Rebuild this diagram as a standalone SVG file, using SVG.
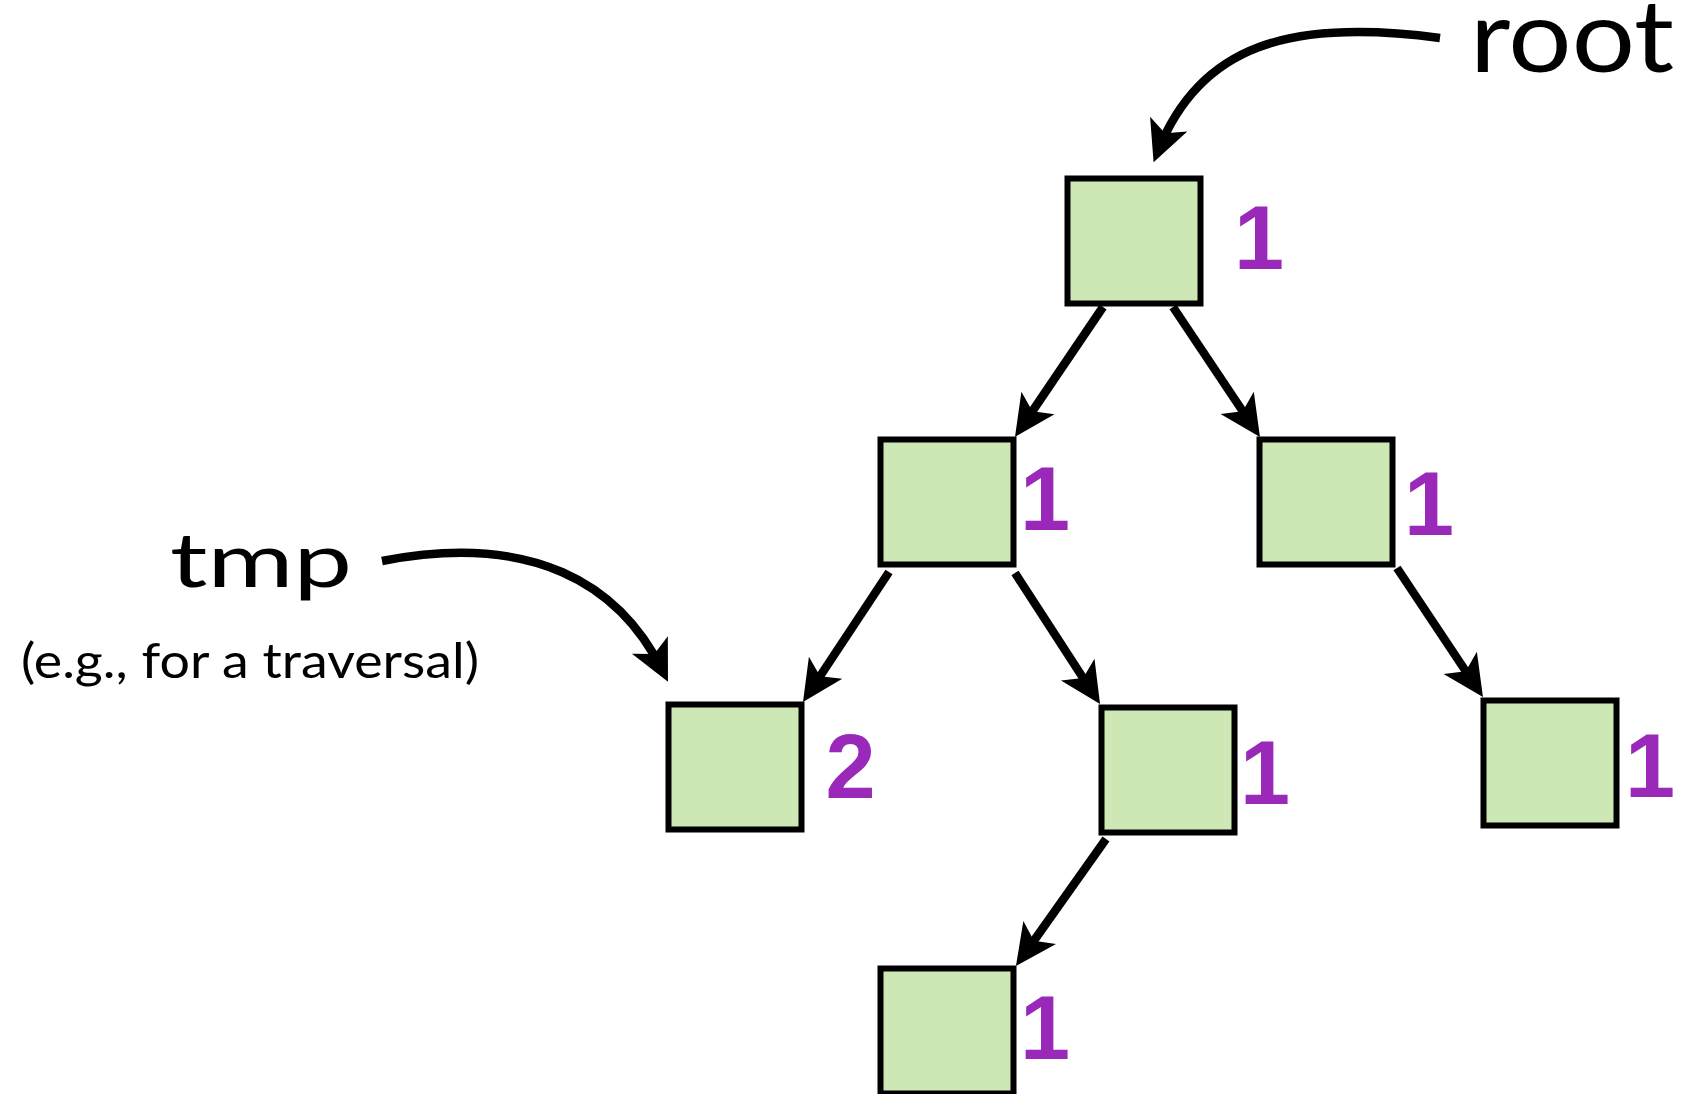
<svg xmlns="http://www.w3.org/2000/svg" width="1685" height="1094" viewBox="0 0 1685 1094">
  <defs>
    <style>
      .node { fill: #cde8b5; stroke: #000; stroke-width: 6; }
      .edge { fill: none; stroke: #000; stroke-width: 8.5; }
      .count { font-family: "Liberation Sans", Arial, sans-serif; font-weight: bold; font-size: 90px; fill: #9a28b9; }
      .label { font-family: Lato, "Open Sans", sans-serif; fill: #000; }
    </style>
    <marker id="head" markerUnits="userSpaceOnUse" markerWidth="60" markerHeight="60" refX="0" refY="0" orient="auto" overflow="visible">
      <path d="M12,0 L-29,-20 L-19,0 L-29,20 Z" fill="#000"/>
    </marker>
  </defs>

  <rect width="1685" height="1094" fill="#fff"/>

  <!-- connectors -->
  <g id="connectors">
    <path class="edge" marker-end="url(#head)" d="M1103,307 L1021.7,427"/>
    <path class="edge" marker-end="url(#head)" d="M1173,307 L1253.3,427"/>
    <path class="edge" marker-end="url(#head)" d="M889,572 L809.6,692"/>
    <path class="edge" marker-end="url(#head)" d="M1015,573 L1093.5,694"/>
    <path class="edge" marker-end="url(#head)" d="M1397,568 L1476.3,687"/>
    <path class="edge" marker-end="url(#head)" d="M1106,839 L1022.9,956.2"/>
    <!-- pointer arrows -->
    <path class="edge" marker-end="url(#head)" d="M1440,38 C1290,18 1200,45 1158,151"/>
    <path class="edge" marker-end="url(#head)" d="M382,561 C532,532 619.5,583.3 662.7,671"/>
  </g>

  <!-- tree nodes with reference counts -->
  <g id="node-root">
    <rect class="node" x="1067.5" y="178.5" width="133" height="125"/>
    <text class="count" x="1259" y="269" text-anchor="middle">1</text>
  </g>
  <g id="node-left">
    <rect class="node" x="880.5" y="439.5" width="133" height="125"/>
    <text class="count" x="1045" y="530" text-anchor="middle">1</text>
  </g>
  <g id="node-right">
    <rect class="node" x="1259.5" y="439.5" width="133" height="125"/>
    <text class="count" x="1429" y="535" text-anchor="middle">1</text>
  </g>
  <g id="node-left-left">
    <rect class="node" x="668.5" y="704.5" width="133" height="125"/>
    <text class="count" x="850.5" y="798" text-anchor="middle">2</text>
  </g>
  <g id="node-left-right">
    <rect class="node" x="1101.5" y="707.5" width="133" height="125"/>
    <text class="count" x="1265" y="804" text-anchor="middle">1</text>
  </g>
  <g id="node-right-right">
    <rect class="node" x="1483.5" y="700.5" width="133" height="125"/>
    <text class="count" x="1650" y="797" text-anchor="middle">1</text>
  </g>
  <g id="node-left-right-left">
    <rect class="node" x="880.5" y="968.5" width="133" height="125"/>
    <text class="count" x="1045" y="1059" text-anchor="middle">1</text>
  </g>

  <!-- pointer labels -->
  <g id="label-root">
    <text class="label" x="1470" y="72" font-size="100" textLength="204" lengthAdjust="spacingAndGlyphs">root</text>
  </g>
  <g id="label-tmp">
    <text class="label" x="170" y="587" font-size="76" textLength="182" lengthAdjust="spacingAndGlyphs">tmp</text>
    <text class="label" x="21" y="678" font-size="48" textLength="458" lengthAdjust="spacingAndGlyphs">(e.g., for a traversal)</text>
  </g>
</svg>
